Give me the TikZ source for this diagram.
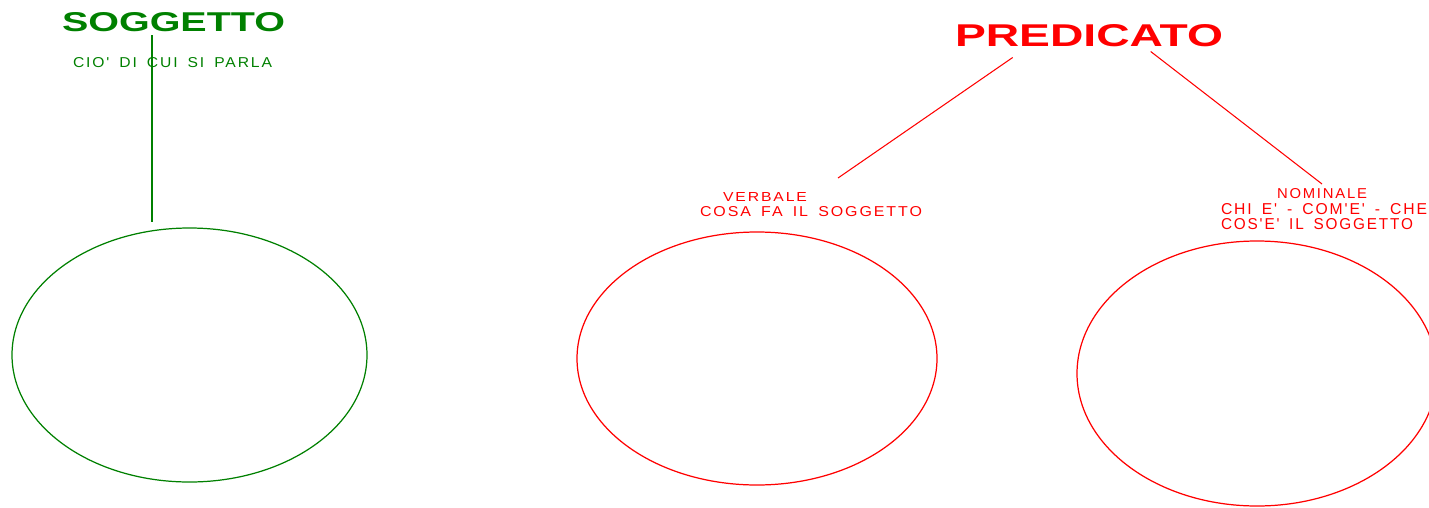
\documentclass[tikz,border=0pt]{standalone}
\usepackage{fontspec}
\usepackage{graphicx}
\newfontfamily\schemafont{Liberation Sans}
\newfontfamily\spacedfont{Liberation Sans}[LetterSpace=12, WordSpace=1.6]
\definecolor{sogGreen}{RGB}{0,128,0}
\definecolor{predRed}{RGB}{255,0,0}
\newcommand{\fitlabel}[3]{\resizebox{#1}{#2}{\schemafont #3}}
\newcommand{\fitsmall}[3]{\resizebox{#1}{#2}{\spacedfont #3}}
\tikzset{
  sogg/.style={
    text = sogGreen,
    inner sep = 0pt
  },
  pred/.style={
    text = predRed,
    inner sep = 0pt
  },
  sogline/.style={
    draw = sogGreen,
    line width = 0.7pt
  },
  predline/.style={
    draw = predRed,
    line width = 0.6pt
  },
}

\begin{document}
\begin{tikzpicture}[x=0.02cm, y=-0.02cm]
        \useasboundingbox (0,0) rectangle (1429,507);
        \clip (0,0) rectangle (1429,507);

        % soggetto
        \node[sogg, inner sep=1.5pt] (soggetto) at (173.5,22.5) {\fitlabel{4.46cm}{0.38cm}{\bfseries SOGGETTO}};
        \node[sogg] (cio) at (172.5,63) {\fitsmall{3.98cm}{0.2cm}{CIO' DI CUI SI PARLA}};
        \coordinate (sogTip) at (152,222);
        \draw[sogline] (soggetto.south -| sogTip) -- (sogTip);
        \draw[sogline] (189.5,355) ellipse [x radius=177.5, y radius=127];

        % predicato
        \node[pred] (predicato) at (1089,36) {\fitlabel{5.36cm}{0.44cm}{\bfseries PREDICATO}};
        \node[pred] (verbale) at (765,197) {\fitsmall{1.68cm}{0.18cm}{VERBALE}};
        \node[pred] (cosa) at (811,212) {\fitsmall{4.44cm}{0.2cm}{COSA FA IL SOGGETTO}};
        \node[pred] (nominale) at (1322,194) {\fitsmall{1.8cm}{0.2cm}{NOMINALE}};
        \node[pred] (chi) at (1324,209.5) {\fitsmall{4.12cm}{0.22cm}{CHI E' - COM'E' - CHE}};
        \node[pred] (cos) at (1317,224.5) {\fitsmall{3.84cm}{0.22cm}{COS'E' IL SOGGETTO}};

        \coordinate (verbTip) at (838,178);
        \coordinate (nomTip) at (1322,184);
        \draw[predline] ([shift={(58,10)}]predicato.south west) -- (verbTip);
        \draw[predline] ([shift={(196,4)}]predicato.south west) -- (nomTip);

        \draw[predline, line width=0.7pt] (757,358.5) ellipse [x radius=180, y radius=126.5];
        \draw[predline, line width=0.7pt] (1257,373.5) ellipse [x radius=180, y radius=132.5];
\end{tikzpicture}
\end{document}
